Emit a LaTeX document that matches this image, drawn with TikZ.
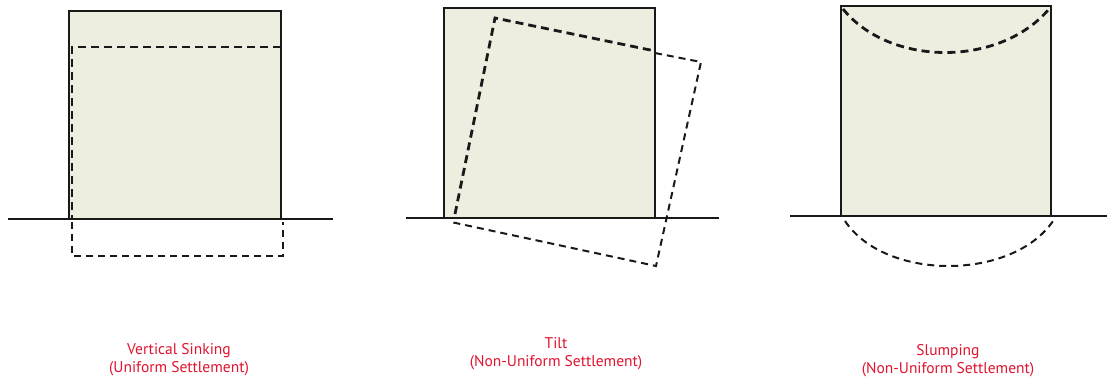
\documentclass[tikz,border=0pt]{standalone}
\usepackage{fontspec}
\setmainfont{PT Sans}
\begin{document}
\begin{tikzpicture}[x=1pt,y=-1pt,
  block/.style={draw=black!90,line width=2.3pt,fill=boxfill},
  ground/.style={draw=black!90,line width=1.6pt},
  settle/.style={draw=black!90,line width=2.8pt,dash pattern=on 8pt off 5pt},
  settlethin/.style={draw=black!90,line width=2pt,dash pattern=on 7pt off 5pt},
  caption/.style={text=capred,align=center,font=\fontsize{15.5}{18}\selectfont,inner sep=0pt}]
\definecolor{boxfill}{HTML}{EDEDE0}
\definecolor{capred}{HTML}{E2132E}
\useasboundingbox[fill=white] (0,0) rectangle (1107,381);
% Panel 1: vertical sinking
\draw[ground] (8,219) -- (333,219);
\draw[block] (69,11) rectangle (281,219);
\draw[settle] (281,47) -- (72,47) -- (72,219);
\draw[settlethin] (72,222) -- (72,256) -- (283,256) -- (283,222);
% Panel 2: tilt
\draw[ground] (406,218) -- (719,218);
\draw[block] (444,8) rectangle (655,218);
\draw[settle] (455,214) -- (495,18) -- (655,51);
\draw[settlethin] (655,53) -- (701,62) -- (656,266) -- (451,222);
% Panel 3: slumping
\draw[ground] (790,216) -- (1107,216);
\draw[block] (841,6) rectangle (1051,216);
\draw[settle] (843,9) .. controls (890,67) and (1000,67) .. (1049,9);
\draw[settlethin] (845,221) .. controls (885,281) and (1012,281) .. (1053,221);
% captions
\node[caption] (c1) at (179,360) {Vertical Sinking\\(Uniform Settlement)};
\node[caption] (c2) at (556,354) {Tilt\\(Non-Uniform Settlement)};
\node[caption] (c3) at (948,361) {Slumping\\(Non-Uniform Settlement)};
\end{tikzpicture}
\end{document}
